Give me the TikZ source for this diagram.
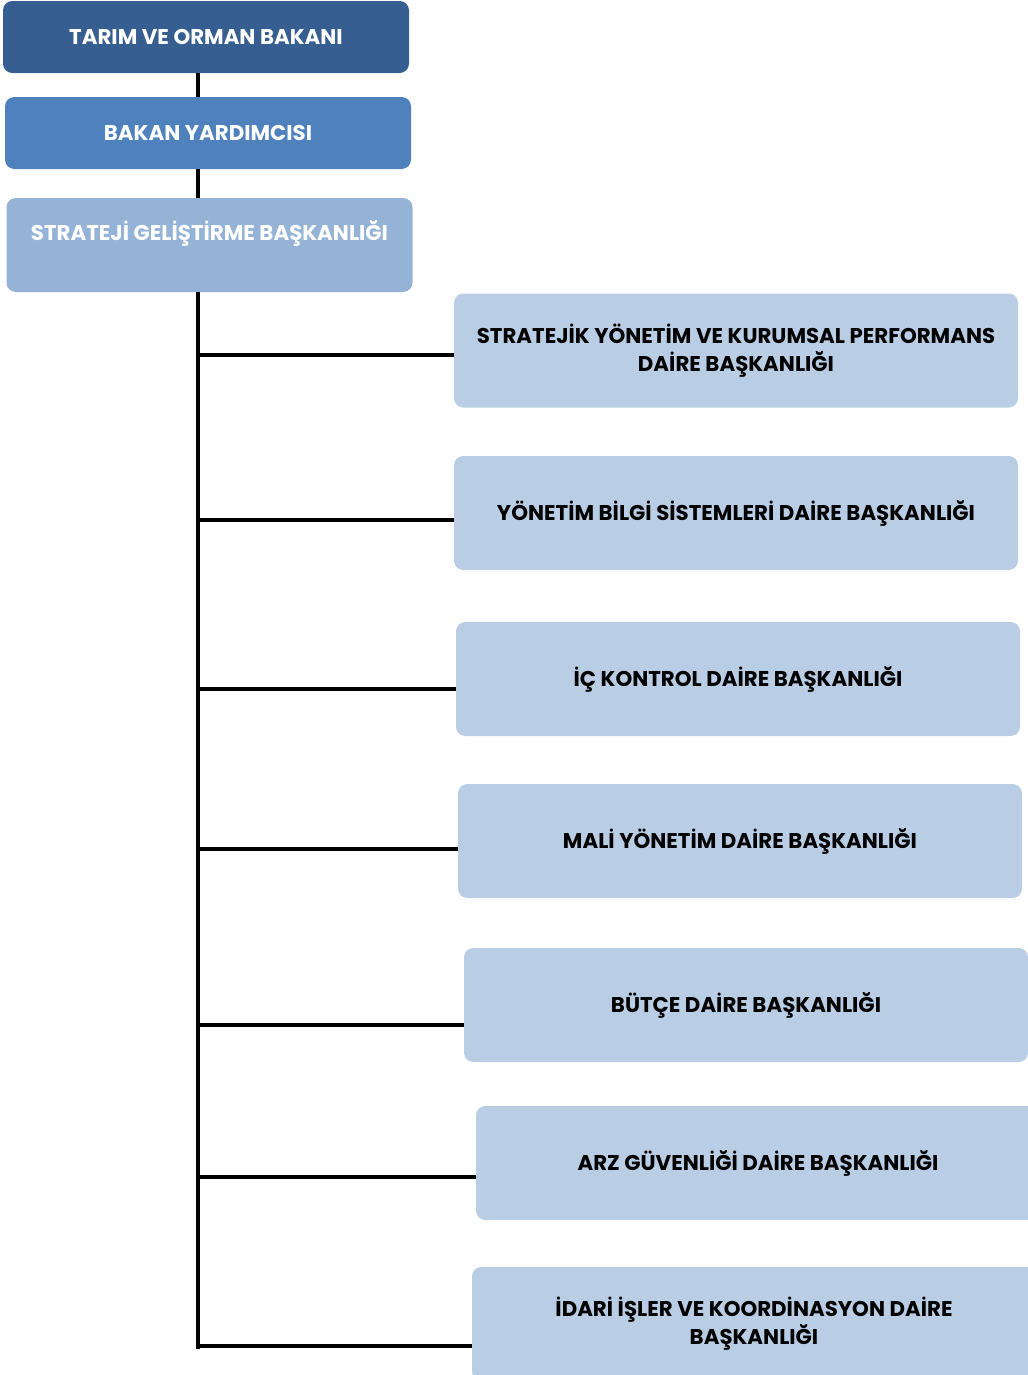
\documentclass[tikz,border=0pt]{standalone}
\usepackage{fontspec}
\setmainfont{Poppins}
\definecolor{darkbox}{HTML}{375E91}
\definecolor{midbox}{HTML}{4F81BD}
\definecolor{palebox}{HTML}{95B3D7}
\definecolor{lightbox}{HTML}{B9CDE5}
\begin{document}
\begin{tikzpicture}[x=0.75pt, y=-0.75pt,
    unit/.style={shape=rectangle, rounded corners=7pt, inner sep=0pt, align=center,
      minimum width=423pt, minimum height=85.5pt, fill=lightbox,
      font=\bfseries\fontsize{16}{21}\selectfont},
    headunit/.style={unit, minimum width=304.5pt, minimum height=54pt, text=white},
    link/.style={line width=3pt}]
    \useasboundingbox (0,0) rectangle (1028,1375);
    \clip (0,0) rectangle (1028,1375);
    % Nodes
    \node[headunit, fill=darkbox] (minister) at (206,37) {TARIM VE ORMAN BAKANI};
    \node[headunit, fill=midbox] (deputy) at (208,133) {BAKAN YARDIMCISI};
    \node[headunit, fill=palebox, minimum height=70.5pt, text depth=22pt] (sgb) at (209.5,245) {STRATEJİ GELİŞTİRME BAŞKANLIĞI};
    \node[unit] (syk) at (736,350.5) {STRATEJİK YÖNETİM VE KURUMSAL PERFORMANS\\DAİRE BAŞKANLIĞI};
    \node[unit] (ybs) at (736,513) {YÖNETİM BİLGİ SİSTEMLERİ DAİRE BAŞKANLIĞI};
    \node[unit] (ick) at (738,679) {İÇ KONTROL DAİRE BAŞKANLIĞI};
    \node[unit] (mali) at (740,841) {MALİ YÖNETİM DAİRE BAŞKANLIĞI};
    \node[unit] (butce) at (746,1005) {BÜTÇE DAİRE BAŞKANLIĞI};
    \node[unit] (arz) at (758,1163) {ARZ GÜVENLİĞİ DAİRE BAŞKANLIĞI};
    \node[unit] (idari) at (754,1324) {İDARİ İŞLER VE KOORDİNASYON DAİRE\\BAŞKANLIĞI};
    \coordinate (spine) at (198,0);
    \coordinate (spineend) at (198,1349);
    % Edges
    \draw[link] (minister.south -| spine) -- (deputy.north -| spine);
    \draw[link] (deputy.south -| spine) -- (sgb.north -| spine);
    \draw[link] (sgb.south -| spine) -- (spineend);
    \foreach \n/\d in {syk/4, ybs/7, ick/10, mali/8, butce/20, arz/14, idari/22} {
      \path ([yshift=-\d*0.75pt]\n.west) coordinate (joint);
      \draw[link] (joint) -- (joint -| spine);
    }
\end{tikzpicture}
\end{document}
